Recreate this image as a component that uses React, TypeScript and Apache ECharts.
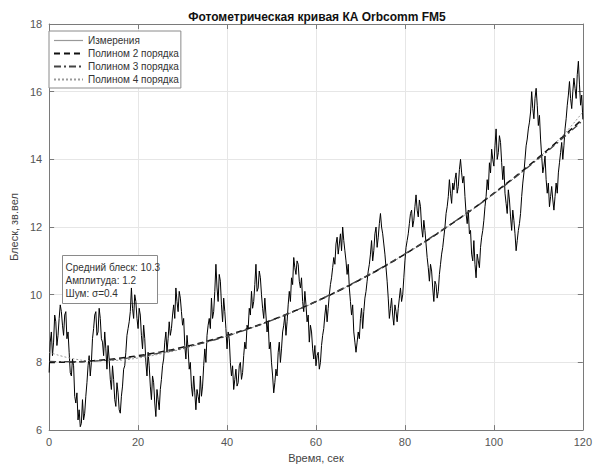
import React, { useEffect, useRef } from "react";
import * as echarts from "echarts";

const TITLE = "Фотометрическая кривая КА Orbcomm FM5";
const X_NAME = "Время, сек";
const Y_NAME = "Блеск, зв.вел";
const SERIES_NAMES = ["Измерения", "Полином 2 порядка", "Полином 3 порядка", "Полином 4 порядка"];
const STATS = ["Средний блеск: 10.3", "Амплитуда: 1.2", "Шум: σ=0.4"];

const MEAS_STEP = 0.25;
const measurements = [
  7.7, 8.6, 8.9, 8.2, 8.6, 9.4, 9.2, 8.5, 8.8, 9.3, 9.7, 9.5, 9.1, 8.8, 9.4, 9.5, 8.7, 8.9, 8.3, 7.7,
  7.6, 8.1, 7.9, 7.0, 6.8, 7.1, 6.3, 6.6, 6.1, 6.2, 6.9, 6.3, 6.5, 7.0, 7.4, 7.9, 8.2, 7.6, 8.0, 8.7,
  9.0, 9.4, 9.5, 8.8, 8.9, 9.6, 9.3, 8.7, 8.6, 8.2, 8.9, 8.4, 7.8, 8.5, 8.1, 7.5, 7.2, 7.9, 7.5, 6.9,
  6.7, 7.4, 7.1, 6.6, 6.5, 7.0, 7.3, 7.8, 7.9, 8.3, 8.8, 9.0, 9.2, 9.5, 10.2, 9.6, 9.3, 10.0, 9.8, 9.3,
  9.0, 9.6, 9.4, 8.8, 8.4, 9.1, 8.7, 8.0, 7.6, 8.3, 7.9, 7.3, 6.9, 7.6, 7.4, 6.8, 6.4, 7.2, 6.9, 6.6,
  7.2, 7.5, 7.9, 8.1, 8.6, 8.9, 8.3, 8.7, 9.2, 8.8, 9.0, 9.4, 9.7, 9.3, 10.2, 9.8, 9.5, 10.1, 9.9, 9.5,
  9.1, 9.3, 8.5, 8.1, 8.8, 8.4, 7.8, 8.0, 7.3, 7.0, 7.6, 7.1, 6.6, 7.2, 7.0, 6.8, 7.6, 7.0, 7.3, 7.9,
  8.4, 8.0, 8.8, 9.1, 9.3, 9.0, 9.9, 9.3, 9.5, 10.1, 10.9, 10.2, 9.8, 10.6, 10.4, 9.7, 9.2, 9.9, 9.5, 9.0,
  8.4, 8.9, 8.7, 8.0, 7.6, 7.9, 7.2, 7.5, 7.8, 7.3, 7.4, 7.9, 8.0, 7.5, 7.7, 8.2, 8.6, 8.4, 9.1, 9.0,
  9.6, 9.4, 10.1, 9.6, 9.8, 10.3, 10.9, 10.1, 10.2, 10.7, 10.5, 10.0, 9.6, 9.3, 9.9, 9.4, 8.9, 9.2, 8.4, 8.6,
  8.0, 7.6, 7.1, 7.4, 7.8, 7.6, 8.3, 8.6, 8.0, 8.4, 8.9, 9.1, 9.4, 8.8, 9.2, 9.7, 10.1, 9.8, 10.5, 10.3,
  11.1, 10.8, 10.6, 11.0, 10.9, 10.4, 10.2, 10.5, 9.8, 9.5, 10.1, 9.7, 9.2, 9.4, 8.6, 9.1, 8.9, 8.4, 8.1, 8.5,
  7.9, 8.2, 8.3, 7.8, 8.0, 8.5, 8.8, 9.0, 9.4, 9.7, 9.2, 9.6, 10.0, 10.3, 10.5, 10.8, 11.1, 10.9, 11.5, 11.7,
  11.2, 11.5, 11.8, 11.3, 12.0, 11.6, 11.3, 11.0, 10.6, 10.9, 10.2, 9.8, 9.4, 9.7, 8.9, 8.6, 8.3, 8.6, 8.9, 8.7,
  9.3, 9.6, 9.0, 9.5, 9.9, 10.1, 10.4, 10.7, 10.9, 11.2, 11.6, 11.0, 11.3, 11.8, 12.0, 11.4, 11.7, 12.1, 12.4, 12.0,
  11.8, 11.5, 11.2, 10.8, 10.4, 9.9, 9.3, 9.6, 9.9, 9.4, 9.1, 9.7, 9.5, 9.2, 9.6, 9.9, 10.2, 9.8, 10.0, 10.5,
  11.0, 11.4, 11.6, 11.8, 12.1, 12.4, 12.5, 12.0, 12.2, 12.6, 12.95, 12.5, 12.3, 12.8, 12.6, 12.0, 11.7, 12.2, 11.9, 11.5,
  11.1, 10.8, 10.4, 10.9, 10.7, 10.2, 9.8, 10.4, 10.3, 9.9, 10.1, 10.6, 10.9, 11.2, 11.4, 11.7, 12.0, 12.4, 12.6, 12.9,
  13.4, 13.0, 12.7, 13.3, 13.1, 13.4, 13.6, 13.0, 13.2, 13.7, 14.0, 13.6, 13.3, 13.5, 12.9, 12.4, 12.1, 12.5, 11.8, 11.9,
  11.2, 11.0, 11.6, 10.9, 10.5, 11.2, 11.0, 10.8, 11.4, 11.7, 11.9, 12.2, 12.6, 12.9, 13.4, 13.1, 13.9, 13.6, 14.3, 14.0,
  13.8, 14.4, 14.9, 14.0, 14.2, 14.7, 14.5, 13.9, 13.4, 13.8, 13.0, 12.7, 12.4, 13.1, 12.8, 12.3, 11.9, 12.5, 12.2, 11.8,
  11.3, 11.6, 11.9, 12.1, 12.4, 12.9, 13.3, 13.6, 14.0, 14.4, 14.6, 14.9, 15.1, 15.4, 16.0, 15.5, 15.2, 15.8, 16.1, 15.6,
  15.0, 15.3, 14.6, 14.1, 13.6, 13.8, 14.1, 13.4, 13.0, 13.3, 12.6, 12.9, 13.2, 12.8, 12.5, 12.9, 13.3, 13.0, 13.6, 13.9,
  14.2, 14.5, 14.0, 14.4, 14.9, 15.2, 15.6, 15.9, 16.3, 15.8, 15.5, 16.0, 16.4, 16.1, 15.8, 16.5, 16.9, 16.2, 15.6, 15.9,
  15.2,
];

const polyTimes = [0, 5, 10, 15, 20, 25, 30, 35, 40, 45, 50, 55, 60, 65, 70, 75, 80, 85, 90, 95, 100, 105, 110, 115, 120];
const poly2 = [8.0, 8.01, 8.05, 8.11, 8.2, 8.31, 8.45, 8.61, 8.8, 9.01, 9.25, 9.51, 9.8, 10.11, 10.45, 10.81, 11.2, 11.61, 12.05, 12.51, 13.0, 13.51, 14.05, 14.61, 15.2];
const poly3 = [8.03, 8.02, 8.04, 8.09, 8.17, 8.28, 8.42, 8.59, 8.78, 9.0, 9.24, 9.51, 9.8, 10.12, 10.46, 10.82, 11.21, 11.62, 12.06, 12.51, 12.99, 13.49, 14.02, 14.57, 15.15];
const poly4 = [8.3, 8.12, 8.05, 8.06, 8.13, 8.25, 8.4, 8.58, 8.78, 9.0, 9.24, 9.5, 9.79, 10.1, 10.44, 10.8, 11.19, 11.6, 12.04, 12.5, 12.98, 13.49, 14.04, 14.64, 15.4];

const FONT = "'Liberation Sans', Arial, Helvetica, sans-serif";

export default function App() {
  const ref = useRef<HTMLDivElement>(null);
  useEffect(() => {
    if (!ref.current) return;
    const chart = echarts.init(ref.current, undefined, { renderer: "svg" });
    const measData = measurements.map((v, i) => [i * MEAS_STEP, v]);
    const pd = (arr: number[]) => arr.map((v, i) => [polyTimes[i], v]);
    const axisLineStyle = { color: "#7a7a7a", width: 1 };
    const xCommon = {
      type: "value" as const,
      min: 0,
      max: 120,
      interval: 20,
      axisLine: { show: true, onZero: false, lineStyle: axisLineStyle },
      axisTick: { show: true, inside: true, length: 5, lineStyle: { color: "#7a7a7a" } },
      splitLine: { show: false },
    };
    const yCommon = {
      type: "value" as const,
      min: 6,
      max: 18,
      interval: 2,
      axisLine: { show: true, onZero: false, lineStyle: axisLineStyle },
      axisTick: { show: true, inside: true, length: 5, lineStyle: { color: "#7a7a7a" } },
      splitLine: { show: false },
    };
    chart.setOption({
      animation: false,
      backgroundColor: "#ffffff",
      title: {
        text: TITLE,
        left: 312,
        textAlign: "center",
        top: 6,
        textStyle: { fontFamily: FONT, fontSize: 12, fontWeight: "bold", color: "#111" },
      },
      grid: { left: 41, right: 11, top: 24, bottom: 33, containLabel: false },
      xAxis: [
        {
          ...xCommon,
          position: "bottom",
          name: X_NAME,
          nameLocation: "middle",
          nameGap: 21,
          nameTextStyle: { fontFamily: FONT, fontSize: 11, color: "#444" },
          axisLabel: { fontFamily: FONT, fontSize: 11, color: "#555", margin: 6 },
          splitLine: { show: true, lineStyle: { color: "#e6e6e6", width: 1 } },
        },
        { ...xCommon, position: "top", axisLabel: { show: false } },
      ],
      yAxis: [
        {
          ...yCommon,
          position: "left",
          name: Y_NAME,
          nameLocation: "middle",
          nameGap: 24,
          nameTextStyle: { fontFamily: FONT, fontSize: 11, color: "#444" },
          axisLabel: { fontFamily: FONT, fontSize: 11, color: "#555", margin: 7 },
          splitLine: { show: true, lineStyle: { color: "#e6e6e6", width: 1 } },
        },
        { ...yCommon, position: "right", axisLabel: { show: false } },
      ],
      legend: {
        orient: "vertical",
        left: 49,
        top: 31,
        itemWidth: 29,
        itemHeight: 8,
        itemGap: 0,
        padding: [3, 2, 2, 4],
        backgroundColor: "#ffffff",
        borderColor: "#8a8a8a",
        borderWidth: 1,
        borderRadius: 0,
        itemStyle: { opacity: 0 },
        textStyle: { fontFamily: FONT, fontSize: 10, lineHeight: 13, color: "#333" },
        data: [
          { name: SERIES_NAMES[0], lineStyle: { color: "#999", width: 1.2 } },
          { name: SERIES_NAMES[1] },
          { name: SERIES_NAMES[2] },
          { name: SERIES_NAMES[3] },
        ],
      },
      graphic: [
        {
          type: "group",
          left: 62,
          top: 255,
          z: 1,
          children: [
            {
              type: "rect",
              z: 1,
              shape: { x: 0, y: 0, width: 95, height: 48 },
              style: { fill: "#ffffff", stroke: "#8a8a8a", lineWidth: 1 },
            },
            ...STATS.map((s, i) => ({
              type: "text",
              z: 1,
              x: 3,
              y: 7 + i * 13,
              style: { text: s, fontFamily: FONT, fontSize: 10, fill: "#333" },
            })),
          ],
        },
      ],
      series: [
        {
          name: SERIES_NAMES[0],
          type: "line",
          data: measData,
          symbol: "none",
          showSymbol: false,
          lineStyle: { color: "#000", width: 1 },
          itemStyle: { color: "#000" },
          z: 2,
        },
        {
          name: SERIES_NAMES[1],
          type: "line",
          data: pd(poly2),
          smooth: true,
          symbol: "none",
          showSymbol: false,
          lineStyle: { color: "#111", width: 1.5, type: [6, 4] },
          itemStyle: { color: "#111" },
          z: 4,
        },
        {
          name: SERIES_NAMES[2],
          type: "line",
          data: pd(poly3),
          smooth: true,
          symbol: "none",
          showSymbol: false,
          lineStyle: { color: "#444", width: 1.3, type: [7, 3, 2, 3] },
          itemStyle: { color: "#444" },
          z: 4,
        },
        {
          name: SERIES_NAMES[3],
          type: "line",
          data: pd(poly4),
          smooth: true,
          symbol: "none",
          showSymbol: false,
          lineStyle: { color: "#9a9a9a", width: 1, type: [2, 2] },
          itemStyle: { color: "#9a9a9a" },
          z: 3,
        },
      ],
    });
    return () => chart.dispose();
  }, []);
  return (
    <div
      ref={ref}
      style={{ position: "fixed", left: 0, top: 0, width: 595, height: 468, background: "#fff" }}
    />
  );
}
